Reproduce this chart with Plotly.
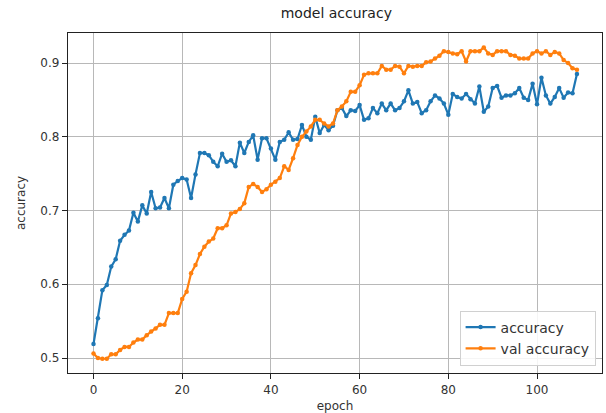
import plotly.graph_objects as go

epochs = list(range(110))

accuracy = [
    0.519, 0.554, 0.592, 0.599, 0.624, 0.634, 0.659, 0.667, 0.673, 0.697,
    0.685, 0.707, 0.696, 0.725, 0.703, 0.704, 0.717, 0.703, 0.735, 0.740,
    0.744, 0.742, 0.717, 0.749, 0.778, 0.778, 0.775, 0.766, 0.760, 0.777,
    0.766, 0.768, 0.760, 0.792, 0.778, 0.793, 0.802, 0.769, 0.798, 0.798,
    0.784, 0.769, 0.793, 0.796, 0.806, 0.796, 0.797, 0.816, 0.800, 0.796,
    0.827, 0.805, 0.816, 0.809, 0.815, 0.836, 0.839, 0.828, 0.836, 0.835,
    0.843, 0.823, 0.825, 0.839, 0.832, 0.845, 0.836, 0.845, 0.836, 0.839,
    0.848, 0.863, 0.845, 0.847, 0.832, 0.836, 0.848, 0.856, 0.852, 0.845,
    0.830, 0.858, 0.854, 0.852, 0.858, 0.851, 0.845, 0.868, 0.834, 0.841,
    0.866, 0.869, 0.853, 0.856, 0.856, 0.859, 0.866, 0.853, 0.850, 0.872,
    0.844, 0.880, 0.856, 0.845, 0.854, 0.866, 0.853, 0.860, 0.859, 0.885,
]

val_accuracy = [
    0.506, 0.500, 0.499, 0.499, 0.505, 0.505, 0.511, 0.515, 0.515, 0.521,
    0.525, 0.525, 0.531, 0.536, 0.540, 0.545, 0.545, 0.561, 0.561, 0.561,
    0.580, 0.590, 0.615, 0.626, 0.641, 0.651, 0.658, 0.662, 0.676, 0.676,
    0.680, 0.696, 0.698, 0.702, 0.710, 0.732, 0.736, 0.732, 0.725, 0.729,
    0.735, 0.739, 0.744, 0.760, 0.755, 0.771, 0.789, 0.800, 0.807, 0.814,
    0.823, 0.823, 0.818, 0.814, 0.818, 0.836, 0.841, 0.848, 0.861, 0.861,
    0.870, 0.884, 0.886, 0.886, 0.886, 0.896, 0.891, 0.891, 0.896, 0.895,
    0.886, 0.896, 0.895, 0.896, 0.896, 0.901, 0.902, 0.906, 0.910, 0.916,
    0.915, 0.913, 0.912, 0.916, 0.902, 0.916, 0.916, 0.916, 0.921, 0.913,
    0.911, 0.916, 0.916, 0.916, 0.911, 0.910, 0.906, 0.906, 0.906, 0.913,
    0.916, 0.913, 0.916, 0.911, 0.915, 0.913, 0.904, 0.900, 0.893, 0.891,
]

x_ticks = [0, 20, 40, 60, 80, 100]
y_ticks = [0.5, 0.6, 0.7, 0.8, 0.9]

font = "DejaVu Sans, sans-serif"

fig = go.Figure()
fig.add_trace(go.Scatter(
    x=epochs, y=accuracy, name="accuracy", mode="lines+markers",
    line=dict(color="#1f77b4", width=2.2), marker=dict(size=4.5, color="#1f77b4"),
))
fig.add_trace(go.Scatter(
    x=epochs, y=val_accuracy, name="val accuracy", mode="lines+markers",
    line=dict(color="#ff7f0e", width=2.2), marker=dict(size=4.5, color="#ff7f0e"),
))

axis_common = dict(
    showline=True, linecolor="#222222", linewidth=1.3, mirror=True,
    ticks="outside", ticklen=5, tickcolor="#222222", automargin=False,
    showgrid=True, gridcolor="#b8b8b8", gridwidth=1.3, zeroline=False,
    tickfont=dict(family=font, size=12, color="#333333"),
)

fig.update_layout(
    width=606, height=413,
    margin=dict(l=68, r=4, t=33, b=40, autoexpand=False),
    paper_bgcolor="white", plot_bgcolor="white",
    title=dict(text="model accuracy", x=0.555, xanchor="center", y=0.968, yanchor="middle",
               font=dict(family=font, size=14, color="#222222")),
    xaxis=dict(range=[-5.75, 114.65], tickvals=x_ticks,
               title=dict(text="epoch", font=dict(family=font, size=12, color="#333333"), standoff=6),
               **axis_common),
    yaxis=dict(range=[0.4797, 0.9407], tickvals=y_ticks, tickformat=".1f",
               title=dict(text="accuracy", font=dict(family=font, size=12, color="#333333"), standoff=12),
               **axis_common),
    legend=dict(x=0.988, xanchor="right", y=0.022, yanchor="bottom",
                bgcolor="rgba(255,255,255,0.85)", bordercolor="#d0d0d0", borderwidth=1,
                font=dict(family=font, size=14, color="#333333"),
                tracegroupgap=0, itemwidth=30),
    showlegend=True,
)

fig.write_html("out.html")
